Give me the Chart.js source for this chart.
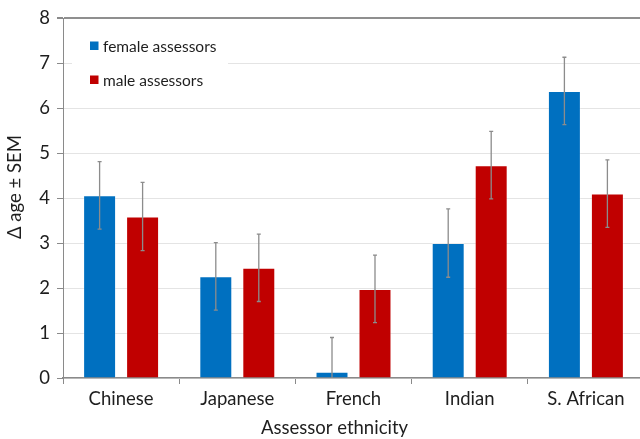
<!DOCTYPE html>
<html>
<head>
<meta charset="utf-8">
<script src="https://cdn.jsdelivr.net/npm/chart.js@4.4.1/dist/chart.umd.min.js"></script>
<style>
  html, body { margin: 0; padding: 0; background: #fff; overflow: hidden; }
  #wrap { width: 640px; height: 439px; overflow: hidden; }
  canvas { display: block; }
</style>
</head>
<body>
<div id="wrap"><canvas id="c" width="648" height="439"></canvas></div>
<script>
// Mean age difference by assessor ethnicity, split by assessor sex
const categories = ['Chinese', 'Japanese', 'French', 'Indian', 'S. African'];
const femaleMean = [4.06, 2.26, 0.14, 3.00, 6.38];
const maleMean   = [3.59, 2.45, 1.98, 4.73, 4.10];
const femaleSem  = [0.75, 0.75, 0.76, 0.76, 0.75];
const maleSem    = [0.76, 0.75, 0.75, 0.75, 0.75];
const yTicks = [0, 1, 2, 3, 4, 5, 6, 7, 8];

const FONT = 'Lato, "Open Sans", sans-serif';
const TEXT = '#1e1e1e';
const AXIS = '#8a8a8a';

// Vertical error bars (mean ± SEM) drawn on top of each bar
const errorBars = {
  id: 'errorBars',
  afterDatasetsDraw(chart) {
    const { ctx } = chart;
    const y = chart.scales.y;
    ctx.save();
    ctx.strokeStyle = '#8c8c8c';
    ctx.lineWidth = 1.3;
    chart.data.datasets.forEach((ds, di) => {
      const meta = chart.getDatasetMeta(di);
      meta.data.forEach((bar, i) => {
        const v = ds.data[i], e = ds.sem[i];
        const top = y.getPixelForValue(v + e);
        const bot = y.getPixelForValue(Math.max(0, v - e));
        ctx.beginPath();
        ctx.moveTo(bar.x, top); ctx.lineTo(bar.x, bot);
        ctx.moveTo(bar.x - 2, top); ctx.lineTo(bar.x + 2, top);
        if (v - e > 0) { ctx.moveTo(bar.x - 2, bot); ctx.lineTo(bar.x + 2, bot); }
        ctx.stroke();
      });
    });
    ctx.restore();
  }
};

// Legend box inside the plot area plus the two axis titles
const decorations = {
  id: 'decorations',
  afterDraw(chart) {
    const { ctx } = chart;
    ctx.save();
    // legend
    ctx.fillStyle = '#fff';
    ctx.fillRect(72, 28, 156, 70);
    ctx.font = '15.5px ' + FONT;
    ctx.textBaseline = 'middle';
    ctx.textAlign = 'left';
    chart.data.datasets.forEach((ds, i) => {
      const cy = 46 + i * 34;
      ctx.fillStyle = ds.backgroundColor;
      ctx.fillRect(90, cy - 4.5, 8.5, 8.5);
      ctx.fillStyle = TEXT;
      ctx.fillText(ds.label, 103, cy + 0.5);
    });
    // x axis title
    ctx.font = '18.5px ' + FONT;
    ctx.textAlign = 'center';
    ctx.textBaseline = 'alphabetic';
    ctx.fillText('Assessor ethnicity', 334.5, 434);
    // y axis title
    ctx.translate(21, 187);
    ctx.rotate(-Math.PI / 2);
    ctx.fillText('Δ age ± SEM', 0, 0);
    ctx.restore();
  }
};

new Chart(document.getElementById('c'), {
  type: 'bar',
  data: {
    labels: categories,
    datasets: [
      { label: 'female assessors', data: femaleMean, sem: femaleSem,
        backgroundColor: '#0070C0', borderColor: 'rgba(255,255,255,0.25)', borderWidth: 1,
        borderSkipped: 'bottom',
        categoryPercentage: 0.74, barPercentage: 0.767 },
      { label: 'male assessors', data: maleMean, sem: maleSem,
        backgroundColor: '#C00000', borderColor: 'rgba(255,255,255,0.25)', borderWidth: 1,
        borderSkipped: 'bottom',
        categoryPercentage: 0.74, barPercentage: 0.767 }
    ]
  },
  options: {
    responsive: false,
    animation: false,
    devicePixelRatio: 1,
    layout: { padding: { top: 16, right: 4, left: 0, bottom: 0 } },
    plugins: { legend: { display: false }, tooltip: { enabled: false }, title: { display: false } },
    scales: {
      x: {
        offset: true,
        grid: { offset: true, drawOnChartArea: false, drawTicks: true, tickLength: 6, tickColor: AXIS, lineWidth: 1 },
        border: { color: AXIS, width: 1.5 },
        ticks: { color: TEXT, font: { family: FONT, size: 18.5 }, padding: 4, maxRotation: 0 },
        afterFit(s) { s.height = 61; }
      },
      y: {
        min: 0, max: 8,
        afterBuildTicks(s) { s.ticks = yTicks.map(v => ({ value: v })); },
        grid: {
          color: c => c.tick && c.tick.value === 8 ? '#8f8f8f' : '#e4e4e4',
          lineWidth: c => c.tick && c.tick.value === 8 ? 2 : 1,
          tickColor: AXIS, tickLength: 6
        },
        border: { color: AXIS, width: 1 },
        ticks: { color: TEXT, font: { family: FONT, size: 18.5 }, padding: 7 },
        afterFit(s) { s.width = 63; }
      }
    }
  },
  plugins: [errorBars, decorations]
});
</script>
</body>
</html>
